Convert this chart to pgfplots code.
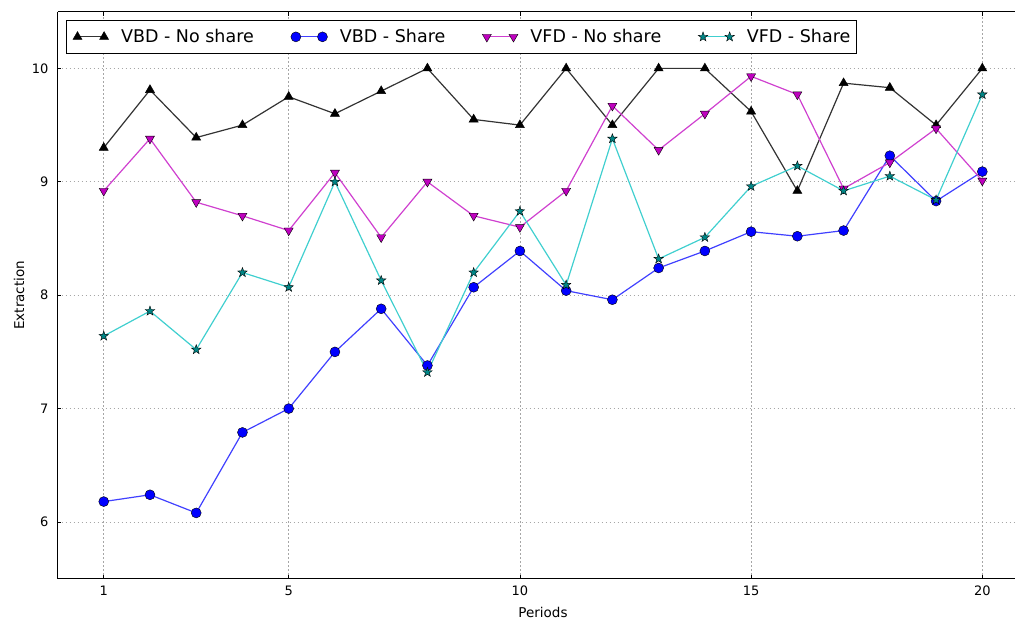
\documentclass[border=0pt]{standalone}
\usepackage{fontspec}
\setmainfont{DejaVu Sans}
\usepackage{pgfplots}
\pgfplotsset{compat=1.18}

\definecolor{mplmag}{rgb}{0.75,0,0.75}
\definecolor{mplcyan}{rgb}{0,0.75,0.75}

% filled five-pointed star, like matplotlib's '*'
\pgfdeclareplotmark{fstar}{%
  \pgfpathmoveto{\pgfpointpolar{90}{\pgfplotmarksize}}%
  \pgfpathlineto{\pgfpointpolar{126}{0.4\pgfplotmarksize}}%
  \pgfpathlineto{\pgfpointpolar{162}{\pgfplotmarksize}}%
  \pgfpathlineto{\pgfpointpolar{198}{0.4\pgfplotmarksize}}%
  \pgfpathlineto{\pgfpointpolar{234}{\pgfplotmarksize}}%
  \pgfpathlineto{\pgfpointpolar{270}{0.4\pgfplotmarksize}}%
  \pgfpathlineto{\pgfpointpolar{306}{\pgfplotmarksize}}%
  \pgfpathlineto{\pgfpointpolar{342}{0.4\pgfplotmarksize}}%
  \pgfpathlineto{\pgfpointpolar{18}{\pgfplotmarksize}}%
  \pgfpathlineto{\pgfpointpolar{54}{0.4\pgfplotmarksize}}%
  \pgfpathclose
  \pgfusepathqfillstroke}

\begin{document}
\pgfplotstableread{
x y
1 9.30
2 9.81
3 9.39
4 9.50
5 9.75
6 9.60
7 9.80
8 10.00
9 9.55
10 9.50
11 10.00
12 9.50
13 10.00
14 10.00
15 9.62
16 8.92
17 9.87
18 9.83
19 9.50
20 10.00
}\vbdnoshare
\pgfplotstableread{
x y
1 6.18
2 6.24
3 6.08
4 6.79
5 7.00
6 7.50
7 7.88
8 7.38
9 8.07
10 8.39
11 8.04
12 7.96
13 8.24
14 8.39
15 8.56
16 8.52
17 8.57
18 9.23
19 8.83
20 9.09
}\vbdshare
\pgfplotstableread{
x y
1 8.92
2 9.38
3 8.82
4 8.70
5 8.57
6 9.08
7 8.51
8 9.00
9 8.70
10 8.60
11 8.92
12 9.67
13 9.28
14 9.60
15 9.93
16 9.77
17 8.94
18 9.17
19 9.47
20 9.01
}\vfdnoshare
\pgfplotstableread{
x y
1 7.64
2 7.86
3 7.52
4 8.20
5 8.07
6 9.00
7 8.13
8 7.32
9 8.20
10 8.74
11 8.09
12 9.38
13 8.32
14 8.51
15 8.96
16 9.14
17 8.92
18 9.05
19 8.84
20 9.77
}\vfdshare
\begin{tikzpicture}
\path[use as bounding box] (-57.5bp,-43.3bp) rectangle (957.5bp,578.7bp);
\begin{axis}[
    at={(0,0)}, anchor=south west,
    scale only axis, width=957.5bp, height=567bp,
    xmin=0, xmax=20.707, ymin=5.5, ymax=10.5,
    axis x line*=box, axis y line*=left,
    xtick={1,5,10,15,20}, ytick={6,7,8,9,10},
    grid=major,
    grid style={black!35, line width=0.6bp, dash pattern=on 1.8bp off 2.2bp},
    tick align=inside, major tick length=4bp,
    tick style={black, line width=0.6bp},
    axis line style={line width=1bp},
    /pgf/number format/assume math mode=true,
    tick label style={font=\fontsize{13bp}{15bp}\selectfont, inner sep=0pt},
    xticklabel style={anchor=north, yshift=-7.3bp},
    yticklabel style={anchor=east, xshift=-9bp},
    xlabel={Periods}, ylabel={Extraction},
    label style={font=\fontsize{13.5bp}{16bp}\selectfont, inner sep=0pt},
    xlabel style={at={([yshift=-28.3bp]axis description cs:0.507,0)}, anchor=north},
    ylabel style={at={([xshift=-33.5bp]axis description cs:0,0.5)}, anchor=base},
    legend columns=4,
    legend image code/.code={\draw[#1,mark repeat=1,mark phase=1] plot coordinates {(0bp,0bp) (26.6bp,0bp)};},
    legend style={at={(0.00888,0.9854)}, anchor=north west,
        draw=black, line width=1bp,
        font=\fontsize{17.5bp}{20bp}\selectfont,
        inner xsep=6.5bp, inner ysep=9bp,
        nodes={inner sep=0pt},
        /tikz/every odd column/.append style={column sep=12.5bp},
        /tikz/every even column/.append style={column sep=37bp}},
  ]
  \addplot[color=black!80, line width=1.2bp, mark=triangle*, mark size=5.2bp,
      mark options={fill=black, draw=black, line width=0.5bp}]
      table[x=x, y=y] {\vbdnoshare};
  \addplot[color=blue!75!white, line width=1.2bp, mark=*, mark size=5bp,
      mark options={fill=blue, draw=black, line width=0.4bp}]
      table[x=x, y=y] {\vbdshare};
  \addplot[color=mplmag!75!white, line width=1.2bp, mark=triangle*, mark size=5.2bp,
      mark options={fill=mplmag, draw=black, line width=0.4bp, rotate=180}]
      table[x=x, y=y] {\vfdnoshare};
  \addplot[color=mplcyan!75!white, line width=1.2bp, mark=fstar, mark size=5bp,
      mark options={fill=mplcyan!70!black, draw=black, line width=0.4bp}]
      table[x=x, y=y] {\vfdshare};
  \legend{VBD - No share, VBD - Share, VFD - No share, VFD - Share}
\end{axis}
\end{tikzpicture}
\end{document}
